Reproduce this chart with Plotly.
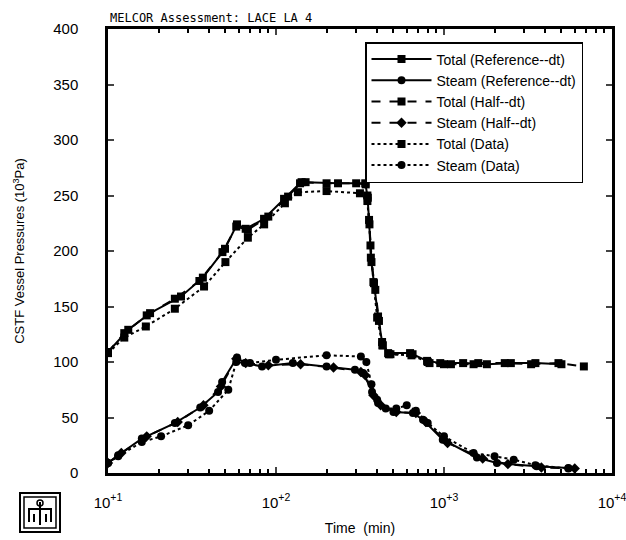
import plotly.graph_objects as go

# ---- data (time in min, pressure in 10^3 Pa) ----
total_ref_t = [10, 13.2, 17.8, 27.2, 36.7, 49.7, 58.6, 66, 84.9, 111.7, 139, 150, 234, 340,
               350, 358, 367, 383, 405, 428, 465, 628, 793, 950, 1300, 1800, 2500, 3500, 5000]
total_ref_v = [109, 129, 144, 159, 176, 202, 224, 220, 229, 247, 261, 262, 261, 261,
               250, 228, 194, 171, 141, 118, 108, 108, 101, 99, 99, 98, 99, 99, 98]

total_half_t = [10, 12.5, 17, 25, 35, 48, 58, 68, 90, 118, 142, 200, 300, 342,
                352, 360, 370, 390, 410, 432, 480, 650, 820, 1100, 1600, 2300, 3300, 4800, 6800]
total_half_v = [109, 126, 142, 157, 173, 199, 222, 219, 231, 249, 262, 261, 261, 260,
                248, 224, 190, 165, 137, 115, 107, 107, 99, 98, 99, 99, 98, 99, 96]

total_data_t = [10, 12.5, 16.8, 25, 37.3, 50, 68, 85, 113, 135, 200, 316, 350, 365,
                380, 400, 430, 470, 640, 800, 1000, 1500]
total_data_v = [108, 122, 132, 148, 168, 190, 212, 224, 243, 253, 254, 252, 245, 205,
                172, 140, 115, 107, 106, 100, 98, 98]

steam_ref_t = [10, 11.5, 15.9, 25, 35.4, 45.2, 47.8, 58.6, 65.3, 82.6, 126, 200, 295, 330,
               373, 405, 500, 653, 750, 983, 1570, 2066, 3560, 5500]
steam_ref_v = [9, 16, 31, 45, 59, 73, 82, 104, 99, 96, 99, 96, 93, 90,
               73, 63, 55, 54, 48, 30, 14, 9, 6, 4.5]

steam_half_t = [10, 12, 17, 26, 37, 47, 58, 66, 90, 140, 220, 320, 340,
                380, 420, 520, 680, 780, 1050, 1700, 2400, 3800, 6000]
steam_half_v = [9, 18, 33, 46, 61, 78, 103, 99, 97, 98, 95, 91, 88,
                70, 61, 55, 54, 46, 27, 13, 8, 5, 4]

steam_data_t = [10, 11.5, 15.9, 20.7, 30, 40, 52, 58, 70, 100, 200, 320, 345,
                370, 400, 450, 520, 600, 680, 800, 1000, 1500, 2000, 2600, 3500, 5500]
steam_data_v = [9, 15, 28, 33, 43, 56, 75, 100, 99, 102, 106, 105, 100,
                80, 66, 58, 58, 61, 56, 45, 33, 18, 15, 12, 7, 4]

legend_names = ["Total (Reference--dt)", "Steam (Reference--dt)", "Total (Half--dt)",
                "Steam (Half--dt)", "Total (Data)", "Steam (Data)"]

xtick_vals = [10, 100, 1000, 10000]
xtick_text = ["10<sup>+1</sup>", "10<sup>+2</sup>", "10<sup>+3</sup>", "10<sup>+4</sup>"]
xminor_vals = [m * d for d in (10, 100, 1000) for m in range(2, 10)]
ytick_vals = list(range(0, 401, 50))

FONT = "Liberation Sans, Arial, sans-serif"

fig = go.Figure()

series = [
    (total_ref_t, total_ref_v, legend_names[0], "solid", "square"),
    (steam_ref_t, steam_ref_v, legend_names[1], "solid", "circle"),
    (total_half_t, total_half_v, legend_names[2], "dash", "square"),
    (steam_half_t, steam_half_v, legend_names[3], "dash", "diamond"),
    (total_data_t, total_data_v, legend_names[4], "dot", "square"),
    (steam_data_t, steam_data_v, legend_names[5], "dot", "circle"),
]
for t, v, name, dash, sym in series:
    fig.add_trace(go.Scatter(
        x=t, y=v, name=name, mode="lines+markers",
        line=dict(color="black", width=2, dash=dash),
        marker=dict(color="black", size=8, symbol=sym),
    ))

# plot area in pixels: x 108..612, y 29..473
L, R, T, B = 108, 612, 29, 473
W, H = R - L, B - T


def px(x):
    return (x - L) / W


def py(y):
    return (B - y) / H


shapes = []
# Sandia logo (approximation)
shapes.append(dict(type="rect", xref="paper", yref="paper",
                   x0=px(20), x1=px(60), y0=py(532), y1=py(493),
                   line=dict(color="black", width=2)))
shapes.append(dict(type="rect", xref="paper", yref="paper",
                   x0=px(24), x1=px(56), y0=py(528), y1=py(497),
                   line=dict(color="black", width=1.5)))
path = (f"M {px(40)},{py(502)} L {px(40)},{py(525)} "
        f"M {px(29)},{py(522)} L {px(29)},{py(509)} L {px(51)},{py(509)} L {px(51)},{py(522)} "
        f"M {px(34)},{py(522)} L {px(34)},{py(514)} M {px(46)},{py(514)} L {px(46)},{py(522)}")
shapes.append(dict(type="path", xref="paper", yref="paper", path=path,
                   line=dict(color="black", width=2)))
shapes.append(dict(type="circle", xref="paper", yref="paper",
                   x0=px(37), x1=px(43), y0=py(506), y1=py(500),
                   line=dict(color="black", width=1.5)))

fig.update_layout(
    width=626, height=540,
    margin=dict(l=L, r=626 - R, t=T, b=540 - B, autoexpand=False),
    paper_bgcolor="white", plot_bgcolor="white",
    font=dict(family=FONT, color="black", size=14),
    showlegend=True,
    legend=dict(x=px(365), y=py(42), xanchor="left", yanchor="top",
                bordercolor="black", borderwidth=1.5, bgcolor="white",
                font=dict(family=FONT, size=14), tracegroupgap=0,
                itemwidth=60),
    shapes=shapes,
    annotations=[
        dict(text="MELCOR Assessment: LACE LA 4", xref="paper", yref="paper",
             x=0, y=1, xanchor="left", yanchor="bottom", yshift=2, showarrow=False,
             font=dict(family="DejaVu Sans Mono, monospace", size=12)),
    ],
    xaxis=dict(
        type="log", range=[1, 4], tickmode="array", tickvals=xtick_vals, ticktext=xtick_text,
        ticks="inside", ticklen=6, tickwidth=2, mirror="allticks", showline=True,
        linecolor="black", linewidth=2.5, showgrid=False, zeroline=False, automargin=False,
        minor=dict(tickmode="array", tickvals=xminor_vals, ticks="inside", ticklen=4,
                   tickwidth=1.5, tickcolor="black", showgrid=False),
        title=dict(text="Time  (min)", font=dict(size=14), standoff=14),
        tickfont=dict(size=15), ticklabelstandoff=14, ticklabeloverflow="allow",
    ),
    yaxis=dict(
        range=[0, 400], tickmode="array", tickvals=ytick_vals, automargin=False,
        ticks="inside", ticklen=6, tickwidth=2, mirror="allticks", showline=True,
        linecolor="black", linewidth=2.5, showgrid=False, zeroline=False,
        title=dict(text="CSTF Vessel Pressures (10<sup>3</sup>Pa)", font=dict(size=13), standoff=26),
        tickfont=dict(size=15), ticklabelstandoff=24,
    ),
)

fig.write_html("out.html")
